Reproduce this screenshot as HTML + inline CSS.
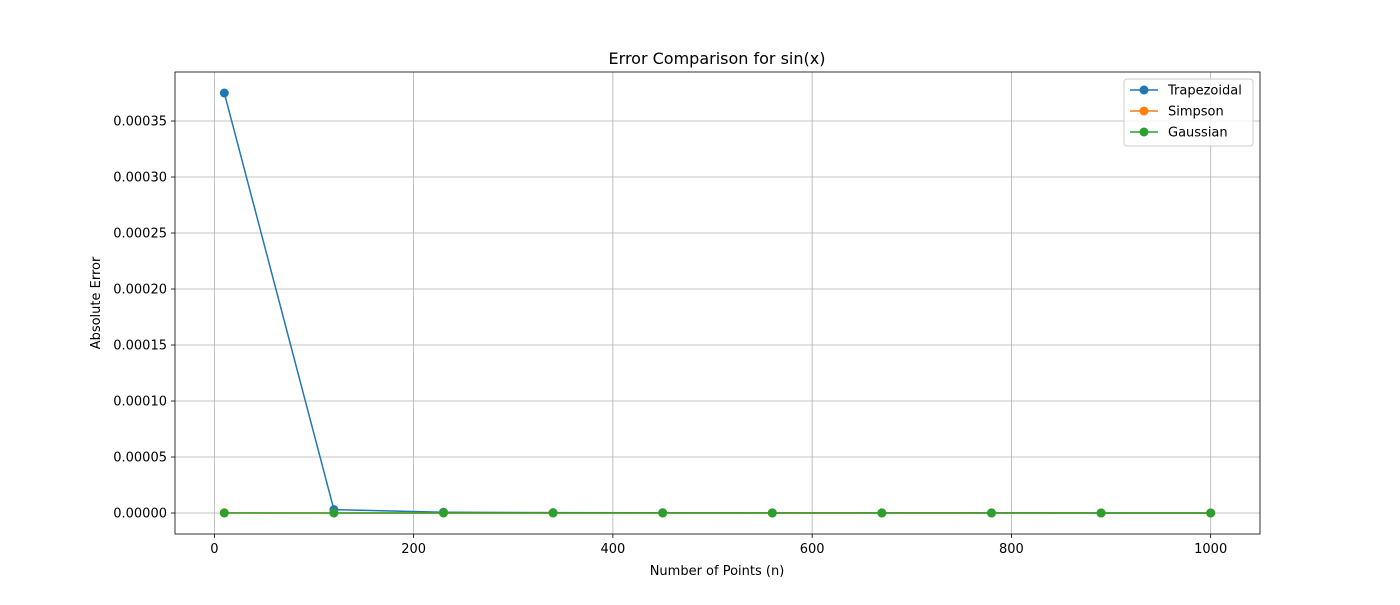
<!DOCTYPE html>
<html><head><meta charset="utf-8"><style>
body{margin:0;background:#fff;font-family:"Liberation Sans","DejaVu Sans",sans-serif}
svg text{font-family:"DejaVu Sans","Liberation Sans",sans-serif}
</style></head><body>
<svg id="chart" width="1400" height="600"></svg>
<script>
const categories=[10,120,230,340,450,560,670,780,890,1000];
const trapezoidal=[0.000375,0.0000030,0.0000007,0.00000032,0.00000018,0.00000012,0.00000008,0.00000006,0.00000005,0.00000004];
const simpson=[0.0000002,0,0,0,0,0,0,0,0,0];
const gaussian=[0,0,0,0,0,0,0,0,0,0];
const xTicks=[0,200,400,600,800,1000];
const yTicks=[0,0.00005,0.0001,0.00015,0.0002,0.00025,0.0003,0.00035];
const yTickLabels=["0.00000","0.00005","0.00010","0.00015","0.00020","0.00025","0.00030","0.00035"];
const L=175,R=1260,T=72,B=534;
const xmin=-39.5,xmax=1049.5,ymin=-0.00001875,ymax=0.00039375;
const sx=v=>L+(v-xmin)/(xmax-xmin)*(R-L);
const sy=v=>B-(v-ymin)/(ymax-ymin)*(B-T);
const svg=document.getElementById('chart');const NS='http://www.w3.org/2000/svg';
function mk(tag,attrs,name,parent){const e=document.createElementNS(NS,tag);for(const k in attrs)e.setAttribute(k,attrs[k]);


(parent||svg).appendChild(e);return e;}
function txt(x,y,s,name,extra){const t=mk('text',Object.assign({x:x,y:y,'font-size':13,fill:'#000'},extra||{}),name);t.textContent=s;return t;}
xTicks.forEach(v=>{const x=sx(v);mk('line',{x1:x,x2:x,y1:T,y2:B,stroke:'#b0b0b0','stroke-width':0.8},'x-gridline');
mk('line',{x1:x,x2:x,y1:B,y2:B+4,stroke:'#000','stroke-width':0.8},'x-tick');
txt(x,B+19,String(v),'x-tick-label',{'text-anchor':'middle'});});
yTicks.forEach((v,i)=>{const y=sy(v);mk('line',{x1:L,x2:R,y1:y,y2:y,stroke:'#b0b0b0','stroke-width':0.8},'y-gridline');
mk('line',{x1:L-4,x2:L,y1:y,y2:y,stroke:'#000','stroke-width':0.8},'y-tick');
txt(L-8,y+4.5,yTickLabels[i],'y-tick-label',{'text-anchor':'end'});});
mk('rect',{x:L,y:T,width:R-L,height:B-T,fill:'none',stroke:'#000','stroke-width':0.8},'plot-frame');
function series(data,color,name){const pts=categories.map((c,i)=>sx(c)+','+sy(data[i])).join(' ');
mk('polyline',{points:pts,fill:'none',stroke:color,'stroke-width':1.5},name+'-line');
categories.forEach((c,i)=>mk('circle',{cx:sx(c),cy:sy(data[i]),r:4.5,fill:color},name+'-point'));}
series(trapezoidal,'#1f77b4','trapezoidal');series(simpson,'#ff7f0e','simpson');series(gaussian,'#2ca02c','gaussian');
txt(717,64,'Error Comparison for sin(x)','chart-title',{'text-anchor':'middle','font-size':16});
txt(717,575,'Number of Points (n)','x-axis-title',{'text-anchor':'middle'});
txt(100,303,'Absolute Error','y-axis-title',{'text-anchor':'middle',transform:'rotate(-90 100 303)'});
mk('rect',{x:1124,y:79,width:129,height:67,rx:3,fill:'#fff',stroke:'#ccc','fill-opacity':0.8},'legend-box');
[['Trapezoidal','#1f77b4'],['Simpson','#ff7f0e'],['Gaussian','#2ca02c']].forEach((s,i)=>{const y=90+i*21;
mk('line',{x1:1130,x2:1158,y1:y,y2:y,stroke:s[1],'stroke-width':1.5},'legend-line');
mk('circle',{cx:1144,cy:y,r:4.5,fill:s[1]},'legend-marker');
txt(1168,y+4.5,s[0],'legend-entry');});
</script>
</body></html>
